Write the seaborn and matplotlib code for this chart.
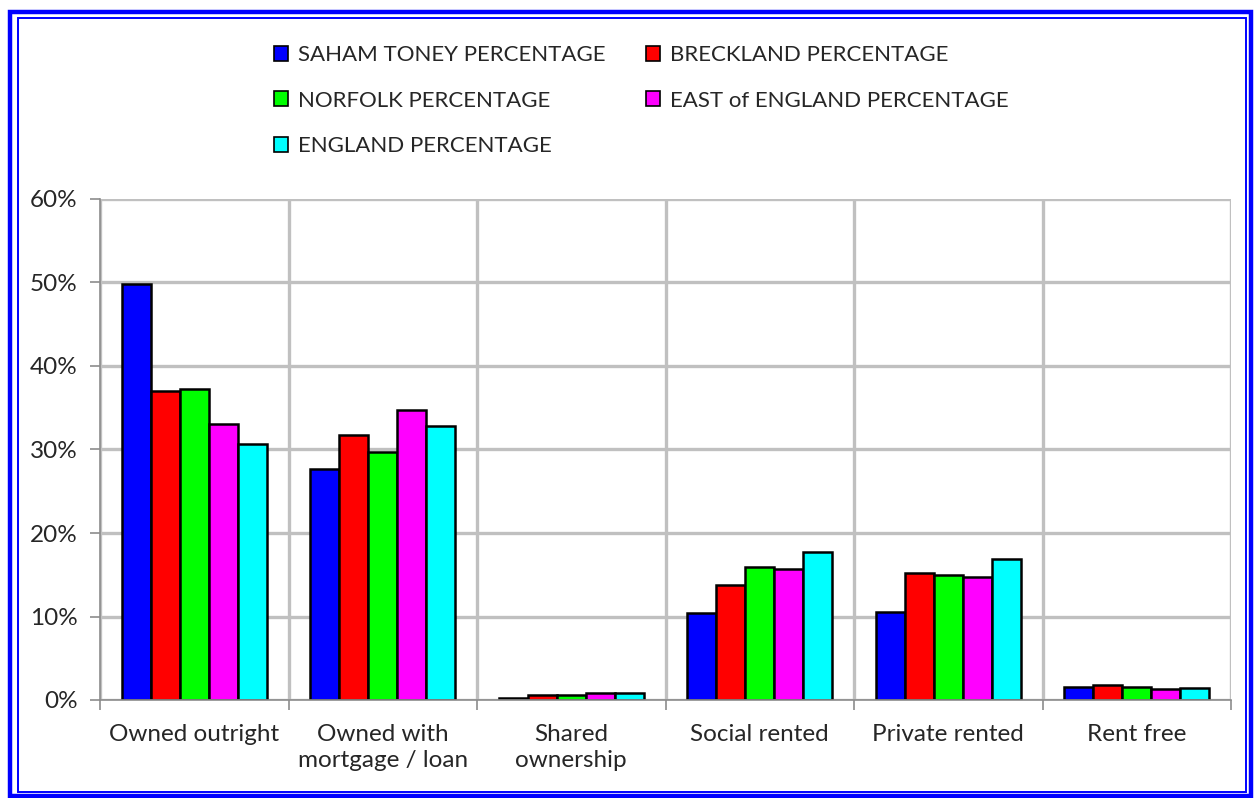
import pandas as pd
import seaborn as sns
import matplotlib.pyplot as plt
from matplotlib.patches import Patch, Rectangle
from matplotlib.ticker import MultipleLocator, FixedLocator

# data (percent)
tenure = ["Owned outright", "Owned with\nmortgage / loan", "Shared\nownership",
          "Social rented", "Private rented", "Rent free"]
saham_toney = [49.8, 27.7, 0.2, 10.4, 10.5, 1.6]
breckland = [37.0, 31.7, 0.55, 13.8, 15.2, 1.8]
norfolk = [37.3, 29.7, 0.6, 15.9, 15.0, 1.6]
east_england = [33.0, 34.7, 0.8, 15.7, 14.7, 1.3]
england = [30.7, 32.8, 0.8, 17.7, 16.9, 1.4]

series_names = ["SAHAM TONEY PERCENTAGE", "BRECKLAND PERCENTAGE", "NORFOLK PERCENTAGE",
                "EAST of ENGLAND PERCENTAGE", "ENGLAND PERCENTAGE"]
colours = ["#0000ff", "#ff0000", "#00ff00", "#ff00ff", "#00ffff"]

rows = []
for name, vals in zip(series_names, [saham_toney, breckland, norfolk, east_england, england]):
    for cat, v in zip(tenure, vals):
        rows.append({"tenure": cat, "series": name, "pct": v})
df = pd.DataFrame(rows)

sns.set_style("white")
plt.rcParams["font.family"] = ["Lato", "DejaVu Sans"]

fig = plt.figure(figsize=(12.55, 7.98), dpi=100)
ax = fig.add_axes([100/1255, 1-700/798, 1131/1255, 501/798])

sns.barplot(data=df, x="tenure", y="pct", hue="series", palette=colours, saturation=1,
            width=0.77, edgecolor="black", linewidth=1.8, legend=False, ax=ax, zorder=3)

ax.set_ylim(0, 60)
ax.set_xlim(-0.5, 5.5)
ax.yaxis.set_major_locator(MultipleLocator(10))
ax.set_yticklabels([f"{int(t)}%" for t in ax.get_yticks()])
ax.xaxis.set_minor_locator(FixedLocator([i - 0.5 for i in range(7)]))
ax.grid(True, axis="y", which="major", color="#c0c0c0", lw=2.4, zorder=0)
ax.grid(True, axis="x", which="minor", color="#c0c0c0", lw=2.4, zorder=0)
ax.grid(False, axis="x", which="major")
ax.tick_params(axis="x", which="major", length=0, pad=17, labelsize=17.5)
ax.tick_params(axis="x", which="minor", length=7, width=1.2, color="#8c8c8c", direction="out")
ax.tick_params(axis="y", length=7, width=1.2, color="#8c8c8c", direction="out", labelsize=17.5, pad=9)
ax.tick_params(bottom=True, left=True, which="both")
for lbl in ax.get_xticklabels():
    lbl.set_linespacing(1.3)
ax.set_xlabel("")
ax.set_ylabel("")
for s in ["top", "right"]:
    ax.spines[s].set_visible(False)
for s in ["left", "bottom"]:
    ax.spines[s].set_color("#8c8c8c")
    ax.spines[s].set_linewidth(1.2)
    ax.spines[s].set_zorder(4)

handles = [Patch(facecolor=c, edgecolor="black", linewidth=1.2) for c in colours]
order = [0, 2, 4, 1, 3]
fig.legend([handles[i] for i in order], [series_names[i] for i in order],
           ncol=2, loc="upper left", bbox_to_anchor=(254/1255, 1-25/798),
           frameon=False, fontsize=16, handlelength=0.65, handleheight=0.65,
           handletextpad=0.45, labelspacing=1.15, columnspacing=1.8)

# double blue frame
fig.patches.append(Rectangle((10/1255, 1-796/798), 1241/1255, 784/798, transform=fig.transFigure,
                             fill=False, edgecolor="#0000ff", lw=3.2))
fig.patches.append(Rectangle((17.5/1255, 1-792/798), 1228/1255, 774/798, transform=fig.transFigure,
                             fill=False, edgecolor="#0000ff", lw=1.4))

fig.savefig("out.png", dpi=100)
